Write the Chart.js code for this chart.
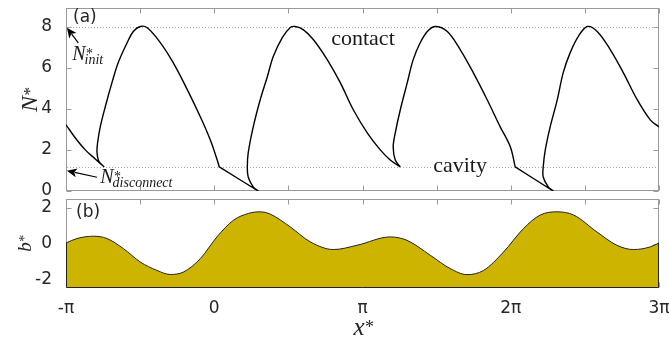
<!DOCTYPE html>
<html>
<head>
<meta charset="utf-8">
<script src="https://cdn.jsdelivr.net/npm/chart.js@4.4.1/dist/chart.umd.min.js"></script>
<style>
  body { margin: 0; background: #fff; }
  #wrap { position: relative; width: 669px; height: 341px; }
  canvas { position: absolute; left: 0; }
</style>
</head>
<body>
<div id="wrap">
  <canvas id="top-chart" width="669" height="200" style="top:0"></canvas>
  <canvas id="bottom-chart" width="669" height="145" style="top:196px"></canvas>
</div>
<script>
// x positions are in units of pi; null entries split the N* trace into pieces
var nX = [
  -1.0, -0.938, -0.870, -0.803, -0.742, null,
  -0.742, -0.779, -0.791, -0.787, -0.769, -0.735, -0.690, -0.648, -0.587, -0.546, -0.499,
  -0.454, -0.364, -0.277, -0.182, -0.094, -0.027, 0.020, 0.034, null,
  0.034, 0.297, null,
  0.297, 0.263, 0.229, 0.223, 0.229, 0.263, 0.310, 0.358, 0.398, 0.459, 0.513, 0.546,
  0.600, 0.668, 0.762, 0.850, 0.938, 1.032, 1.120, 1.187, 1.255, null,
  1.255, 1.221, 1.207, 1.221, 1.255, 1.302, 1.342, 1.390, 1.437, 1.491,
  1.572, 1.659, 1.747, 1.841, 1.929, 1.997, 2.030, null,
  2.030, 2.287, null,
  2.287, 2.253, 2.219, 2.219, 2.233, 2.266, 2.314, 2.354, 2.401, 2.455, 2.516,
  2.583, 2.671, 2.759, 2.853, 2.941, 3.0
];
var nY = [
  3.22, 2.59, 2.00, 1.56, 1.17, null,
  1.17, 1.46, 1.90, 2.34, 3.12, 4.10, 5.27, 6.24, 7.22, 7.76, 8.00,
  7.95, 7.22, 6.24, 4.93, 3.61, 2.49, 1.51, 1.17, null,
  1.17, 0, null,
  0, 0.20, 0.68, 1.17, 1.85, 3.12, 4.44, 5.56, 6.54, 7.46, 7.95, 8.00,
  7.85, 7.37, 6.39, 5.27, 3.95, 2.83, 2.00, 1.51, 1.17, null,
  1.17, 1.51, 2.15, 2.83, 3.95, 5.27, 6.39, 7.22, 7.76, 8.00,
  7.76, 6.88, 5.76, 4.44, 3.12, 2.15, 1.17, null,
  1.17, 0, null,
  0, 0.20, 0.68, 1.17, 2.00, 3.12, 4.44, 5.76, 6.73, 7.51, 8.00,
  7.76, 6.88, 5.76, 4.44, 3.46, 3.12
];
var bX = [
  -1.0, -0.926, -0.814, -0.724, -0.612, -0.499, -0.387, -0.297, -0.207, -0.094,
  0.018, 0.130, 0.231, 0.310, 0.378, 0.513, 0.648, 0.805, 0.963, 1.187,
  1.300, 1.457, 1.592, 1.705, 1.817, 1.951, 2.086, 2.199, 2.312, 2.424,
  2.581, 2.716, 2.828, 2.941, 3.0
];
var bY = [
  0.03, 0.28, 0.41, 0.28, -0.29, -1.04, -1.51, -1.74, -1.60, -0.85,
  0.37, 1.31, 1.69, 1.78, 1.65, 0.93, 0.09, -0.34, -0.10, 0.37,
  0.18, -0.66, -1.41, -1.75, -1.51, -0.48, 0.84, 1.60, 1.78, 1.60,
  0.65, -0.10, -0.34, -0.19, 0.03
];
var refLevels = [8, 1.17];          // N*_init and N*_disconnect
var xTickVals = [-1, 0, 1, 2, 3];
var xTickLabels = ['-π', '0', 'π', '2π', '3π'];
var nTicks = [0, 2, 4, 6, 8];
var bTicks = [-2, 0, 2];

var ink = '#262626';
var frameGray = '#9a9a9a';
var tickFont = { family: 'DejaVu Sans', size: 17 };
var serif = '"Liberation Serif", "DejaVu Serif", serif';

function halfPiTicks(scale) {
  var t = [];
  for (var v = -1; v <= 3; v += 0.5) t.push({ value: v });
  scale.ticks = t;
}
function fixedTicks(list) {
  return function (scale) {
    scale.ticks = list.map(function (v) { return { value: v }; });
  };
}
function piLabel(v) {
  var k = xTickVals.indexOf(v);
  return k < 0 ? '' : xTickLabels[k];
}

// italic symbol with a superscript star and optional subscript, left aligned on baseline
function symbolWidth(ctx, base, size) {
  ctx.font = 'italic ' + size + 'px ' + serif;
  return ctx.measureText(base).width;
}
function drawSymbol(ctx, x, y, base, sub, size) {
  var small = Math.round(size * 0.72);
  var w = symbolWidth(ctx, base, size);
  ctx.fillText(base, x, y);
  ctx.font = small + 'px ' + serif;
  ctx.fillText('*', x + w + 0.5, y - size * 0.1);
  if (sub) {
    ctx.font = 'italic ' + small + 'px ' + serif;
    ctx.fillText(sub, x + w - 1, y + size * 0.2);
  }
}

function arrow(ctx, x1, y1, x2, y2) {
  var ang = Math.atan2(y2 - y1, x2 - x1), len = 10, hw = 4.5;
  ctx.beginPath();
  ctx.moveTo(x1, y1);
  ctx.lineTo(x2 - Math.cos(ang) * len * 0.8, y2 - Math.sin(ang) * len * 0.8);
  ctx.stroke();
  ctx.beginPath();
  ctx.moveTo(x2, y2);
  ctx.lineTo(x2 - Math.cos(ang) * len - Math.sin(ang) * hw, y2 - Math.sin(ang) * len + Math.cos(ang) * hw);
  ctx.lineTo(x2 - Math.cos(ang) * len * 0.75, y2 - Math.sin(ang) * len * 0.75);
  ctx.lineTo(x2 - Math.cos(ang) * len + Math.sin(ang) * hw, y2 - Math.sin(ang) * len - Math.cos(ang) * hw);
  ctx.closePath();
  ctx.fill();
}

// box around the plot plus inward tick marks on all four sides
var framePlugin = {
  id: 'frame',
  beforeDatasetsDraw: function (chart) {
    var ctx = chart.ctx, a = chart.chartArea;
    var xs = chart.scales.x, ys = chart.scales.y;
    var L = Math.round(a.left) + 0.5, R = Math.round(a.right) - 0.5;
    var T = Math.round(a.top) + 0.5, B = Math.round(a.bottom) - 0.5;
    ctx.save();
    ctx.strokeStyle = frameGray;
    ctx.lineWidth = 1;
    ctx.strokeRect(L, T, R - L, B - T);
    ctx.beginPath();
    xs.ticks.forEach(function (t) {
      var px = Math.round(xs.getPixelForValue(t.value)) + 0.5;
      ctx.moveTo(px, T); ctx.lineTo(px, T + 5);
      ctx.moveTo(px, B); ctx.lineTo(px, B - 5);
    });
    ys.ticks.forEach(function (t) {
      var py = Math.round(ys.getPixelForValue(t.value)) + 0.5;
      ctx.moveTo(L, py); ctx.lineTo(L + 5, py);
      ctx.moveTo(R, py); ctx.lineTo(R - 5, py);
    });
    ctx.stroke();
    ctx.restore();
  }
};

var topNotes = {
  id: 'topNotes',
  beforeDatasetsDraw: function (chart) {
    var ctx = chart.ctx, a = chart.chartArea, ys = chart.scales.y;
    ctx.save();
    ctx.strokeStyle = '#a8a8a8';
    ctx.lineWidth = 1;
    ctx.setLineDash([1, 2]);
    refLevels.forEach(function (lv) {
      var py = Math.round(ys.getPixelForValue(lv)) + 0.5;
      ctx.beginPath();
      ctx.moveTo(a.left + 1, py);
      ctx.lineTo(a.right - 1, py);
      ctx.stroke();
    });
    ctx.restore();
  },
  afterDatasetsDraw: function (chart) {
    var ctx = chart.ctx, a = chart.chartArea;
    var xs = chart.scales.x, ys = chart.scales.y;
    function px(v) { return xs.getPixelForValue(v); }
    function py(v) { return ys.getPixelForValue(v); }
    ctx.save();
    ctx.fillStyle = ink;
    ctx.textBaseline = 'alphabetic';
    ctx.textAlign = 'left';
    ctx.font = '17px "DejaVu Sans"';
    ctx.fillText('(a)', a.left + 7, a.top + 14);

    ctx.fillStyle = '#1a1a1a';
    ctx.font = '22px ' + serif;
    ctx.fillText('contact', px(0.789), py(7.12));
    var cw = ctx.measureText('cavity').width;
    ctx.fillStyle = '#fff';
    ctx.fillRect(px(1.477) - 1, py(1.17) - 2, cw + 2, 4);
    ctx.fillStyle = '#1a1a1a';
    ctx.fillText('cavity', px(1.477), py(0.93));

    drawSymbol(ctx, px(-0.958), py(6.39), 'N', 'init', 20);
    drawSymbol(ctx, px(-0.769), py(0.39), 'N', 'disconnect', 20);

    ctx.strokeStyle = '#000';
    ctx.fillStyle = '#000';
    ctx.lineWidth = 1.2;
    arrow(ctx, px(-0.917), py(7.2), px(-0.994), py(7.94));
    arrow(ctx, px(-0.791), py(0.67), px(-0.994), py(0.99));

    // rotated y title
    ctx.fillStyle = ink;
    var w = symbolWidth(ctx, 'N', 24) + 9;
    ctx.translate(37, (a.top + a.bottom) / 2);
    ctx.rotate(-Math.PI / 2);
    drawSymbol(ctx, -w / 2, 0, 'N', null, 24);
    ctx.restore();
  }
};

var bottomNotes = {
  id: 'bottomNotes',
  afterDatasetsDraw: function (chart) {
    var ctx = chart.ctx, a = chart.chartArea;
    var xs = chart.scales.x, ys = chart.scales.y;
    var L = Math.round(a.left) + 0.5, R = Math.round(a.right) - 0.5, B = Math.round(a.bottom) - 0.5;
    ctx.save();
    // dark outline on the sides and bottom of the filled bed
    ctx.strokeStyle = '#222';
    ctx.lineWidth = 1;
    ctx.beginPath();
    ctx.moveTo(L, ys.getPixelForValue(bY[0]));
    ctx.lineTo(L, B);
    ctx.lineTo(R, B);
    ctx.lineTo(R, ys.getPixelForValue(bY[bY.length - 1]));
    ctx.stroke();

    ctx.fillStyle = ink;
    ctx.textAlign = 'left';
    ctx.font = '17px "DejaVu Sans"';
    ctx.fillText('(b)', a.left + 10, a.top + 18);

    var w = symbolWidth(ctx, 'b', 19) + 7;
    ctx.save();
    ctx.translate(31, (a.top + a.bottom) / 2);
    ctx.rotate(-Math.PI / 2);
    drawSymbol(ctx, -w / 2, 0, 'b', null, 19);
    ctx.restore();

    var wx = symbolWidth(ctx, 'x', 25) + 9;
    drawSymbol(ctx, (a.left + a.right) / 2 - wx / 2 + 1, 139, 'x', null, 25);
    ctx.restore();
  }
};

function noPad(s) { s.paddingLeft = 0; s.paddingRight = 0; s.paddingTop = 0; s.paddingBottom = 0; }

new Chart(document.getElementById('top-chart'), {
  type: 'line',
  data: {
    datasets: [{
      data: nX.map(function (x, i) { return { x: x, y: nY[i] }; }),
      borderColor: '#000',
      borderWidth: 1.4,
      pointRadius: 0,
      tension: 0.35,
      fill: false,
      spanGaps: false
    }]
  },
  options: {
    responsive: false,
    animation: false,
    layout: { padding: { top: 8, right: 10, left: 0, bottom: 0 } },
    plugins: { legend: { display: false }, tooltip: { enabled: false } },
    scales: {
      x: {
        type: 'linear', min: -1, max: 3,
        grid: { display: false }, border: { display: false },
        ticks: { display: false },
        afterBuildTicks: halfPiTicks,
        afterFit: function (s) { s.height = 9; noPad(s); }
      },
      y: {
        min: 0, max: 8.9,
        grid: { display: false }, border: { display: false },
        afterBuildTicks: fixedTicks(nTicks),
        ticks: { font: tickFont, color: ink, padding: 6 },
        afterFit: function (s) { s.width = 66; noPad(s); }
      }
    }
  },
  plugins: [framePlugin, topNotes]
});

new Chart(document.getElementById('bottom-chart'), {
  type: 'line',
  data: {
    datasets: [{
      data: bX.map(function (x, i) { return { x: x, y: bY[i] }; }),
      borderColor: '#222',
      borderWidth: 1,
      backgroundColor: '#ccb400',
      fill: 'start',
      pointRadius: 0,
      cubicInterpolationMode: 'monotone'
    }]
  },
  options: {
    responsive: false,
    animation: false,
    layout: { padding: { top: 3, right: 10, left: 0, bottom: 0 } },
    plugins: { legend: { display: false }, tooltip: { enabled: false } },
    scales: {
      x: {
        type: 'linear', min: -1, max: 3,
        grid: { display: false }, border: { display: false },
        afterBuildTicks: halfPiTicks,
        ticks: { font: tickFont, color: ink, padding: 2, autoSkip: false, maxRotation: 0, callback: piLabel },
        afterFit: function (s) { s.height = 53; noPad(s); }
      },
      y: {
        min: -2.5, max: 2.5,
        grid: { display: false }, border: { display: false },
        afterBuildTicks: fixedTicks(bTicks),
        ticks: { font: tickFont, color: ink, padding: 6 },
        afterFit: function (s) { s.width = 66; noPad(s); }
      }
    }
  },
  plugins: [framePlugin, bottomNotes]
});
</script>
</body>
</html>
